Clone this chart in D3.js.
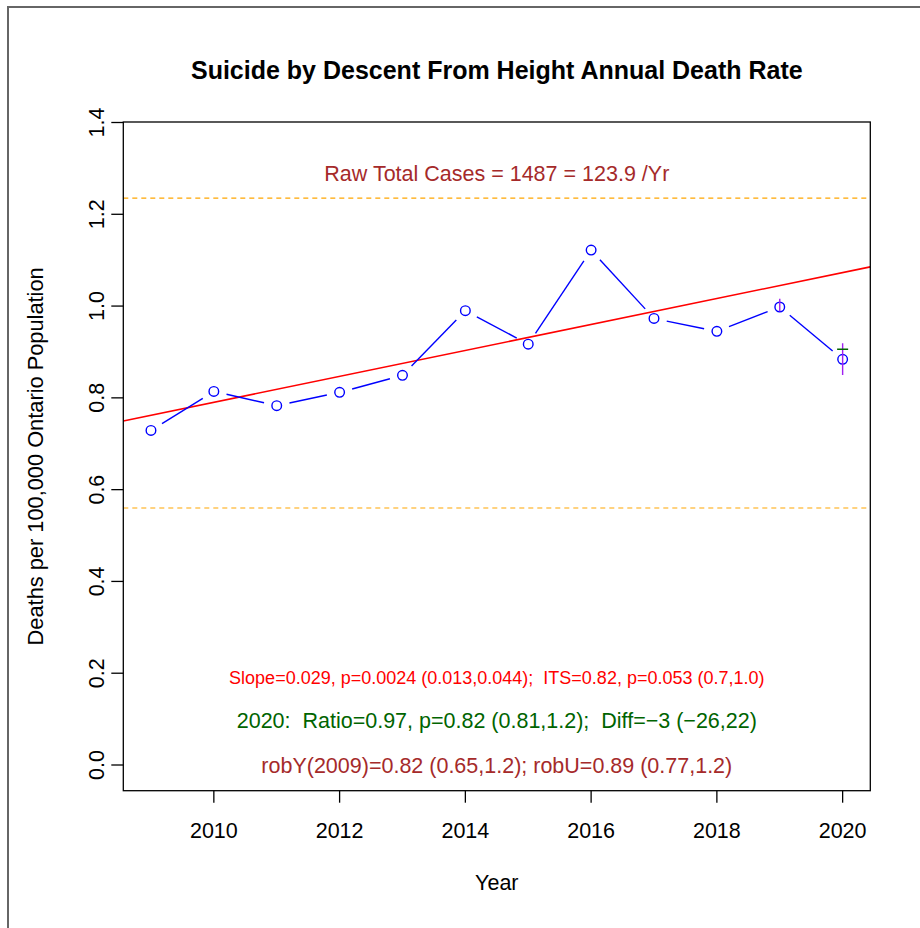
<!DOCTYPE html>
<html><head><meta charset="utf-8">
<script src="https://cdn.jsdelivr.net/npm/d3@7"></script>
<style>body{margin:0;background:#fff}svg{display:block}text{font-family:"Liberation Sans",Arial,Helvetica,sans-serif;white-space:pre}</style>
</head><body>
<svg id="c" width="920" height="928"></svg>
<script>
const years = [2009,2010,2011,2012,2013,2014,2015,2016,2017,2018,2019,2020];
const rates = [0.729,0.814,0.783,0.812,0.849,0.990,0.917,1.122,0.973,0.945,0.998,0.884];
const trendYears = [2009, 2020];
const trendValues = [0.762, 1.073];
const refLines = [1.235, 0.560];
const errYears = [2019, 2020];
const errLow = [0.988, 0.850];
const errHigh = [1.016, 0.919];
const markYears = [2020];
const markValues = [0.906];
const xTicks = [2010,2012,2014,2016,2018,2020];
const yTicks = [0,0.2,0.4,0.6,0.8,1.0,1.2,1.4];
const titleText = "Suicide by Descent From Height Annual Death Rate";
const xLabel = "Year";
const yLabel = "Deaths per 100,000 Ontario Population";
const rawText = "Raw Total Cases = 1487 = 123.9 /Yr";
const slopeText = "Slope=0.029, p=0.0024 (0.013,0.044);  ITS=0.82, p=0.053 (0.7,1.0)";
const ratioText = "2020:  Ratio=0.97, p=0.82 (0.81,1.2);  Diff=\u22123 (\u221226,22)";
const robText = "robY(2009)=0.82 (0.65,1.2); robU=0.89 (0.77,1.2)";

const svg = d3.select("#c");
const L=123.3, R=870.3, T=122, B=790.7;
const x = d3.scaleLinear().domain([2008.56, 2020.44]).range([L, R]);
const y = d3.scaleLinear().domain([0, 1.4]).range([765, 122.5]);
const fs = 21.5;

// outer frame
svg.append("rect").attr("x",8).attr("y",7).attr("width",940).attr("height",940)
  .attr("fill","none").attr("stroke","#666").attr("stroke-width",2);

svg.append("defs").append("clipPath").attr("id","pc")
  .append("rect").attr("x",L).attr("y",T).attr("width",R-L).attr("height",B-T);
const g = svg.append("g").attr("clip-path","url(#pc)");

// reference lines
g.selectAll(".ref").data(refLines).join("line")
  .attr("x1",L).attr("x2",R).attr("y1",d=>y(d)).attr("y2",d=>y(d))
  .attr("stroke","#FFA500").attr("stroke-width",1.2).attr("stroke-dasharray","5,4");

// trend line (abline across full plot)
const slope = (trendValues[1]-trendValues[0])/(trendYears[1]-trendYears[0]);
const tv = t => trendValues[0] + slope*(t-trendYears[0]);
const xd = x.domain();
g.append("line").attr("x1",x(xd[0])).attr("x2",x(xd[1]))
  .attr("y1",y(tv(xd[0]))).attr("y2",y(tv(xd[1])))
  .attr("stroke","#FF0000").attr("stroke-width",1.6);

// connecting segments with gaps
const gap = 13;
for (let i=0;i<years.length-1;i++){
  const x1=x(years[i]), y1=y(rates[i]), x2=x(years[i+1]), y2=y(rates[i+1]);
  const dx=x2-x1, dy=y2-y1, len=Math.hypot(dx,dy);
  if (len>2*gap){
    const ux=dx/len, uy=dy/len;
    g.append("line").attr("x1",x1+ux*gap).attr("y1",y1+uy*gap)
      .attr("x2",x2-ux*gap).attr("y2",y2-uy*gap)
      .attr("stroke","#0000FF").attr("stroke-width",1.4);
  }
}
// points
g.selectAll(".pt").data(years).join("circle")
  .attr("cx",d=>x(d)).attr("cy",(d,i)=>y(rates[i])).attr("r",4.8)
  .attr("fill","none").attr("stroke","#0000FF").attr("stroke-width",1.4);

// error bars
g.selectAll(".err").data(errYears).join("line")
  .attr("x1",d=>x(d)).attr("x2",d=>x(d))
  .attr("y1",(d,i)=>y(errLow[i])).attr("y2",(d,i)=>y(errHigh[i]))
  .attr("stroke","#A020F0").attr("stroke-width",1.4);
g.selectAll(".mk").data(markYears).join("line")
  .attr("x1",d=>x(d)-5.5).attr("x2",d=>x(d)+5.5)
  .attr("y1",(d,i)=>y(markValues[i])).attr("y2",(d,i)=>y(markValues[i]))
  .attr("stroke","#006400").attr("stroke-width",1.6);

// box
svg.append("rect").attr("x",L).attr("y",T).attr("width",R-L).attr("height",B-T)
  .attr("fill","none").attr("stroke","#000").attr("stroke-width",1.3);

// x axis
const xa = svg.append("g");
xa.selectAll("line").data(xTicks).join("line")
  .attr("x1",d=>x(d)).attr("x2",d=>x(d)).attr("y1",B).attr("y2",B+12)
  .attr("stroke","#000").attr("stroke-width",1.3);
xa.selectAll("text").data(xTicks).join("text")
  .attr("x",d=>x(d)).attr("y",838).attr("text-anchor","middle")
  .attr("font-size",fs).text(d=>d);
// y axis
const ya = svg.append("g");
ya.selectAll("line").data(yTicks).join("line")
  .attr("x1",L-12).attr("x2",L).attr("y1",d=>y(d)).attr("y2",d=>y(d))
  .attr("stroke","#000").attr("stroke-width",1.3);
ya.selectAll("text").data(yTicks).join("text")
  .attr("transform",d=>`translate(104,${y(d)}) rotate(-90)`)
  .attr("text-anchor","middle").attr("font-size",fs).text(d=>d.toFixed(1));

// titles
svg.append("text").attr("x",(L+R)/2).attr("y",79).attr("text-anchor","middle")
  .attr("font-size",25).attr("font-weight","bold").text(titleText);
svg.append("text").attr("x",(L+R)/2).attr("y",890).attr("text-anchor","middle")
  .attr("font-size",fs).text(xLabel);
svg.append("text").attr("transform",`translate(43,${(T+B)/2}) rotate(-90)`)
  .attr("text-anchor","middle").attr("font-size",fs+0.3).text(yLabel);

// annotations
svg.append("text").attr("x",(L+R)/2).attr("y",181).attr("text-anchor","middle")
  .attr("font-size",fs).attr("fill","#A52A2A").text(rawText);
svg.append("text").attr("x",(L+R)/2).attr("y",684).attr("text-anchor","middle")
  .attr("font-size",18).attr("fill","#FF0000").text(slopeText);
svg.append("text").attr("x",(L+R)/2).attr("y",728).attr("text-anchor","middle")
  .attr("font-size",fs).attr("fill","#006400").text(ratioText);
svg.append("text").attr("x",(L+R)/2).attr("y",773).attr("text-anchor","middle")
  .attr("font-size",fs).attr("fill","#A52A2A").text(robText);
</script>
</body></html>
